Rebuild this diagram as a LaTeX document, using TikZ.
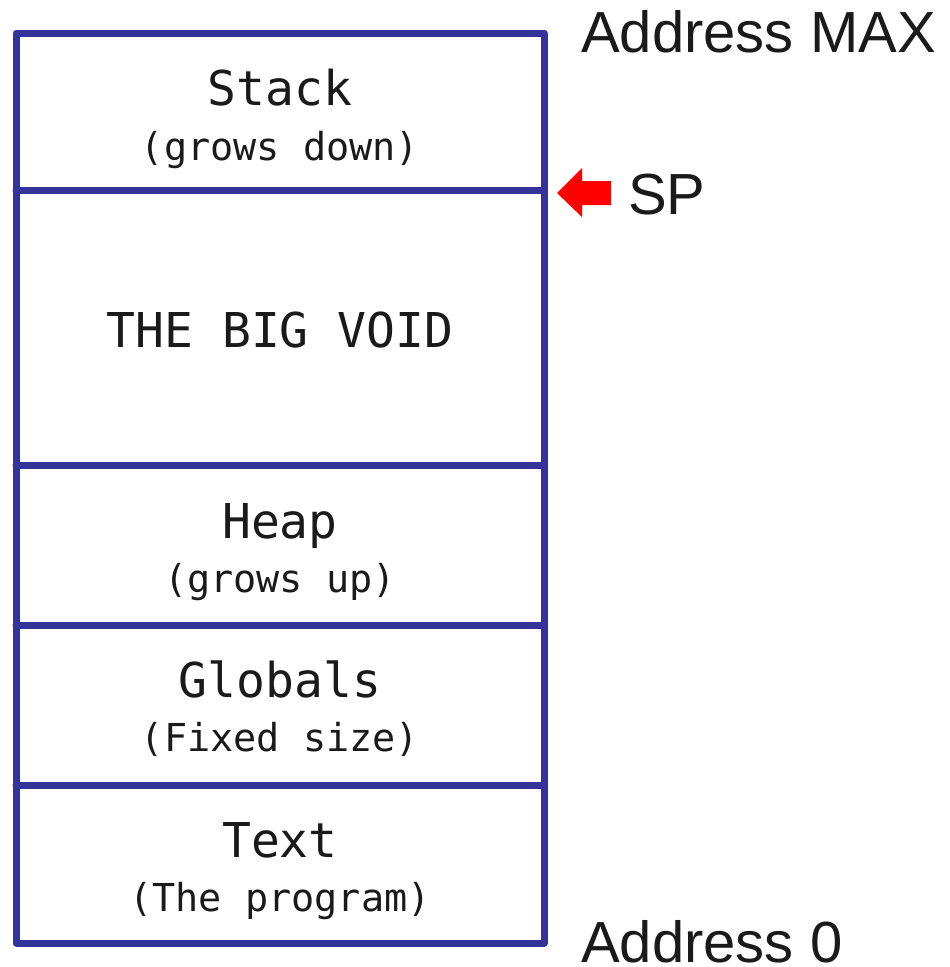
\documentclass[tikz,border=0pt]{standalone}
\usepackage{fontspec}
\setmonofont{DejaVu Sans Mono}
\setsansfont{Liberation Sans}
\definecolor{memblue}{HTML}{333399}
\definecolor{ink}{HTML}{1A1A1A}
\begin{document}
\begin{tikzpicture}[x=1pt,y=-1pt,
  wall/.style={draw=memblue,line width=7pt,line join=round,line cap=round},
  segname/.style={anchor=base,text=ink,inner sep=0pt,font=\ttfamily\fontsize{48}{52}\selectfont},
  segnote/.style={anchor=base,text=ink,inner sep=0pt,font=\ttfamily\fontsize{38.5}{42}\selectfont},
  addr/.style={anchor=base west,text=ink,inner sep=0pt,font=\sffamily\fontsize{58}{62}\selectfont}]
\useasboundingbox (0,0) rectangle (950,967);

% outer frame of the address space and the segment boundaries
\draw[wall] (16,33) rectangle (544,943);
\foreach \yy in {190,465,625,785}
  \draw[wall] (16,\yy) -- (544,\yy);

% segment labels
\node[segname] (stack)   at (280,105) {Stack};
\node[segnote] (stackn)  at (280,160) {(grows down)};
\node[segname] (void)    at (280,347) {THE BIG VOID};
\node[segname] (heap)    at (280,538) {Heap};
\node[segnote] (heapn)   at (280,592) {(grows up)};
\node[segname] (globals) at (280,697) {Globals};
\node[segnote] (globn)   at (280,751) {(Fixed size)};
\node[segname] (text)    at (280,857) {Text};
\node[segnote] (textn)   at (280,911) {(The program)};

% address labels
\node[addr] (amax) at (581,52) {Address MAX};
\node[addr] (azero) at (581,962) {Address 0};

% stack pointer marker
\fill[red] (557,193) -- (582,168) -- (582,181) -- (611,181) -- (611,205)
  -- (582,205) -- (582,217) -- cycle;
\node[addr] (sp) at (628,214) {SP};
\end{tikzpicture}
\end{document}
